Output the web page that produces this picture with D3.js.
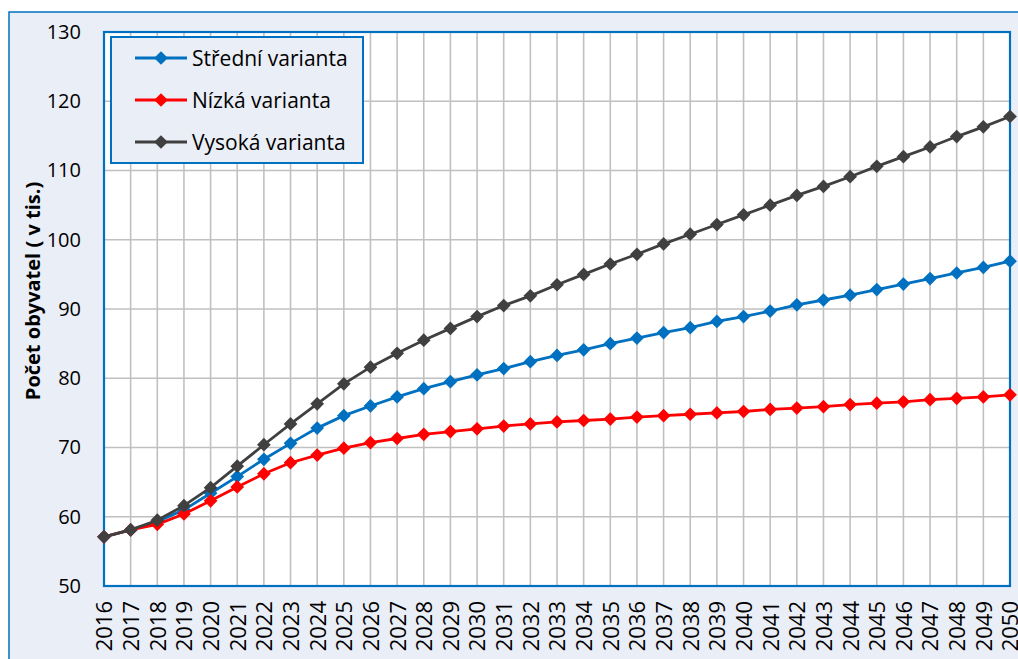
<!DOCTYPE html>
<html>
<head>
<meta charset="utf-8">
<script src="https://cdn.jsdelivr.net/npm/d3@7"></script>
<style>
  body { margin: 0; background: #fff; }
  svg { display: block; font-family: "Open Sans", sans-serif; }
</style>
</head>
<body>
<svg id="svg1" width="1018" height="659"></svg>
<script>
var years = d3.range(2016, 2051);
var yTicks = [50, 60, 70, 80, 90, 100, 110, 120, 130];

var stredni = [57.1, 58.1, 59.3, 61.0, 63.4, 65.8, 68.3, 70.6, 72.8, 74.6,
  76.0, 77.3, 78.5, 79.5, 80.5, 81.4, 82.4, 83.3, 84.1, 85.0,
  85.8, 86.6, 87.3, 88.2, 88.9, 89.7, 90.6, 91.3, 92.0, 92.8,
  93.6, 94.4, 95.2, 96.0, 96.9];
var nizka = [57.1, 58.1, 58.9, 60.4, 62.3, 64.3, 66.2, 67.8, 68.9, 69.9,
  70.7, 71.3, 71.9, 72.3, 72.7, 73.1, 73.4, 73.7, 73.9, 74.1,
  74.4, 74.6, 74.8, 75.0, 75.2, 75.5, 75.7, 75.9, 76.2, 76.4,
  76.6, 76.9, 77.1, 77.3, 77.6];
var vysoka = [57.1, 58.1, 59.5, 61.6, 64.2, 67.3, 70.4, 73.4, 76.3, 79.2,
  81.6, 83.6, 85.5, 87.2, 88.9, 90.5, 91.9, 93.5, 95.0, 96.5,
  97.9, 99.4, 100.8, 102.2, 103.6, 105.0, 106.4, 107.7, 109.1, 110.6,
  112.0, 113.4, 114.9, 116.3, 117.8];

var series = [
  { name: "Střední varianta", color: "#0070C0", values: stredni },
  { name: "Nízká varianta", color: "#FF0000", values: nizka },
  { name: "Vysoká varianta", color: "#404040", values: vysoka }
];

var svg = d3.select('svg');
var bg = "#EAEEF6";

// pozadí a rámeček grafu
svg.append('rect').attr('x', 9).attr('y', 12).attr('width', 1030).attr('height', 700)
  .attr('fill', bg).attr('stroke', '#0070C0').attr('stroke-width', 1.5);

var pLeft = 104, pTop = 32, pRight = 1010, pBottom = 586;

var x = d3.scaleLinear().domain([2016, 2050]).range([pLeft, pRight]);
var y = d3.scaleLinear().domain([50, 130]).range([pBottom, pTop]);

svg.append('rect').attr('x', pLeft).attr('y', pTop)
  .attr('width', pRight - pLeft).attr('height', pBottom - pTop).attr('fill', '#fff');

// mřížka
svg.append('g').selectAll('line').data(years).enter().append('line')
  .attr('x1', function(d) { return x(d); }).attr('x2', function(d) { return x(d); })
  .attr('y1', pTop).attr('y2', pBottom)
  .attr('stroke', '#C0C0C0').attr('stroke-width', 1.6);
svg.append('g').selectAll('line').data(yTicks).enter().append('line')
  .attr('x1', pLeft).attr('x2', pRight)
  .attr('y1', function(d) { return y(d); }).attr('y2', function(d) { return y(d); })
  .attr('stroke', '#C0C0C0').attr('stroke-width', 1.6);

svg.append('rect').attr('x', pLeft).attr('y', pTop)
  .attr('width', pRight - pLeft).attr('height', pBottom - pTop)
  .attr('fill', 'none').attr('stroke', '#0070C0').attr('stroke-width', 2.2);

// osy
var yAxis = svg.append('g').attr('transform', 'translate(' + pLeft + ',0)')
  .call(d3.axisLeft(y).tickValues(yTicks).tickSize(0).tickPadding(23));
yAxis.select('.domain').remove();
yAxis.selectAll('text').attr('font-size', 20).attr('fill', '#000')
  .attr('font-family', '"Open Sans", sans-serif');

var xAxis = svg.append('g').attr('transform', 'translate(0,' + pBottom + ')')
  .call(d3.axisBottom(x).tickValues(years).tickFormat(d3.format('d')).tickSize(0));
xAxis.select('.domain').remove();
xAxis.selectAll('text').attr('font-size', 22).attr('fill', '#000')
  .attr('font-family', '"Open Sans", sans-serif')
  .attr('transform', 'rotate(-90)')
  .attr('text-anchor', 'end').attr('dy', '0.36em')
  .attr('x', -15).attr('y', 0);

svg.append('text')
  .attr('transform', 'translate(40,291) rotate(-90)')
  .attr('text-anchor', 'middle')
  .attr('font-size', 20).attr('font-weight', 'bold')
  .text('Počet obyvatel ( v tis.)');

// čáry
var line = d3.line()
  .x(function(d, i) { return x(years[i]); })
  .y(function(d) { return y(d); });
var diamond = d3.symbol().type(d3.symbolDiamond2).size(120);

series.forEach(function(s) {
  var g = svg.append('g');
  g.append('path').datum(s.values).attr('d', line)
    .attr('fill', 'none').attr('stroke', s.color).attr('stroke-width', 2.8);
  g.selectAll('path.m').data(s.values).enter().append('path').attr('class', 'm')
    .attr('d', diamond)
    .attr('transform', function(d, i) { return 'translate(' + x(years[i]) + ',' + y(d) + ')'; })
    .attr('fill', s.color);
});

// legenda
var leg = svg.append('g');
leg.append('rect').attr('x', 111).attr('y', 37).attr('width', 252).attr('height', 126)
  .attr('fill', bg).attr('stroke', '#0070C0').attr('stroke-width', 2);
series.forEach(function(s, i) {
  var ly = 58 + i * 42;
  leg.append('line').attr('x1', 135).attr('x2', 187).attr('y1', ly).attr('y2', ly)
    .attr('stroke', s.color).attr('stroke-width', 2.8);
  leg.append('path').attr('d', diamond).attr('transform', 'translate(161,' + ly + ')')
    .attr('fill', s.color);
  leg.append('text').attr('x', 192).attr('y', ly).attr('dy', '0.36em')
    .attr('font-size', 21).text(s.name);
});
</script>
</body>
</html>
